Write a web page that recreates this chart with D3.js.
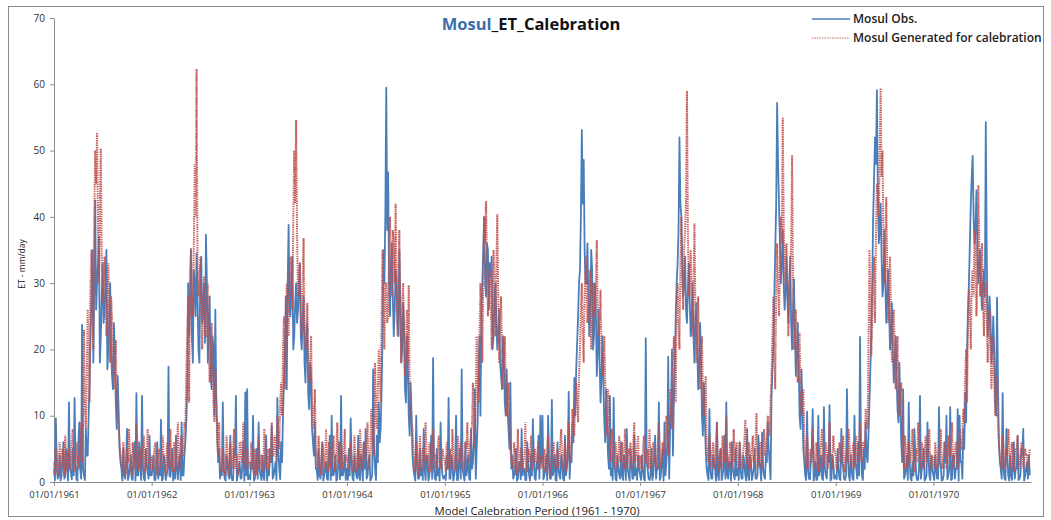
<!DOCTYPE html>
<html>
<head>
<meta charset="utf-8">
<script src="https://cdn.jsdelivr.net/npm/d3@7"></script>
<style>
  html, body { margin: 0; padding: 0; background: #fff; }
  svg { display: block; font-family: "Open Sans", "DejaVu Sans", sans-serif; }
</style>
</head>
<body>
<svg id="chart" width="1051" height="520"></svg>
<script>
// ET (mm/day) at Mosul, 1961 .. 1970: one row per year, one reading at the
// start of each week plus one reading half a week later.
const years = [1961, 1962, 1963, 1964, 1965, 1966, 1967, 1968, 1969, 1970];

const obsWeekly = [
  [2,9.6,0.5,4,1,6,0.8,3,12,1.5,5,12.7,0.4,6,2,23.7,1,8, 4,15,28,18,42.5,30,37,22,33,26,35,20,30,16,24,12,16,5, 2,5,0.5,8,1,4,0.3,6,13.4,1,3,13,0.5,5,1.5,7],
  [1,4,0.3,6,2,9.4,0.5,3,1,17.4,0.8,5,2,7,0.4,4,9,1, 6,14,22,35,18,30,34.5,20,32,24,30,37.3,18,28,14,20,26,8,5, 2,12,0.5,4,1,7,0.3,5,13,1,3,0.6,6,13.5,14],
  [1,3,10,0.5,5,9,1,4,0.3,7,2,5,8.6,1,3,12.7,2,6, 10,20,14,38.8,25,34,22,30,26,33,20,28,15,24,11,16,6,9, 2,5,0.5,6,1,3,0.3,7,10,1,4,0.5,6,13,1,4],
  [2,5,9.6,0.5,4,1,7,0.3,3,6,8,1,4,0.5,17,2,7,12, 8,22,30,59.5,46.7,25,36,22,32,24,35,18,27,14,22,10,15,4, 1,10,0.5,5,2,8,0.3,4,1,7,18.7,0.5,5,2,9,1],
  [1,4,12.7,0.5,3,1,10,0.3,5,17,1,6,2,0.5,8,3,14,5, 17,10,30,40,28,35,33,34,22,30,20,26,16,22,12,17,8,15,4, 1,5,0.5,3,8,2,0.3,6,1,4,9.5,0.5,3,7,10],
  [10,1,4,10,0.5,12.4,2,0.3,6,1,4,0.5,7,2,13.6,4,9,15.7, 17,25,32,53.1,48.6,30,36,22,35,20,30,16,26,12,22,9,14,4,13, 2,12.7,0.5,4,1,6,0.3,3,8,1,5,0.5,7,2,4],
  [1,4,0.5,21.7,2,0.3,5,1,7,2,12,0.8,5,9,3,18.9,8,20, 12,25,33,52,40,28,34,24,33,22,30,18,27,14,24,10,15,5, 1,11,0.5,4,2,9,0.3,5,1,7,12,0.5,3,6,1,5],
  [2,6,0.5,4,1,8,0.3,3,1,5,0.5,7,2,7.5,1,4,9,3, 12.7,20,35,57.2,42,30,38,26,34,24,34,20,30.6,16,24,10,17,5, 1,10.6,0.5,3,11,1,0.3,10,2,0.5,11.3,1,4,11.6,0.5,3],
  [1,5,0.5,8,2,0.3,14,1,4,0.5,10,2,6,21.9,1,5,9,3, 12,22,40,52,59.1,36,42,28,38,24,32,20,27,15,22,11,18,6,14, 1,4,12,0.5,3,8,1,0.3,13,2,5,0.5,9,1,4],
  [1,4,0.5,11.3,2,0.3,6,10,1,11.3,0.5,4,2,11,10,3,8,13.4, 20,30,42,49.2,36,44,30,35,26,32,54.3,22,28,18,25,12,27.8,6, 2,13.4,0.5,8,1,4,0.3,6,2,7,0.5,5,8,1,3,4]
];

const obsMidweek = [
  [0.3,2,1,0.2,3,0.5,5,0.2,2,0.4,1,3,0.2,9,0.5,2,0.3,4, 10,22,35,30,26,33,18,28,24,30,17,25,20,14,19,8,11,3, 0.2,1,3,0.3,2,0.5,4,0.2,1,6,0.3,2,0.2,3,0.5,1],
  [2,0.3,3,0.5,1,0.2,4,0.3,2,1,3,0.2,0.5,2,3,0.3,1,4, 9,30,27,22,32,25,28,18,34,26,21,30,24,16,22,10,13,3, 0.5,1,2,0.2,3,0.5,1,0.3,4,0.2,2,0.5,3,0.2,1,0.4],
  [0.4,2,0.2,3,0.5,2,0.3,1,4,0.2,1,3,0.5,2,0.3,5,0.4,3, 15,28,30,26,31,20,27,24,29,22,25,18,22,13,18,8,4,2, 0.3,1,3,0.2,2,0.5,4,0.3,1,2,0.2,3,0.4,1,2,0.3],
  [0.3,1,3,0.2,2,0.5,1,4,0.2,2,0.5,3,0.2,1,5,0.3,3,6, 14,35,40,38,30,33,28,26,30,22,28,20,24,12,18,7,10,2, 0.2,3,0.5,1,0.3,2,4,0.2,3,0.5,2,0.3,1,0.2,3,0.5],
  [0.3,2,0.5,4,0.2,2,0.3,3,0.5,2,0.2,1,4,0.3,2,6,0.5,9, 22,25,35,30,36,26,31,20,28,24,22,18,14,20,10,11,5,2, 0.5,2,0.2,3,0.4,1,2,0.3,3,0.2,1,4,0.3,2,0.5,3],
  [0.4,2,0.3,3,0.5,1,4,0.2,2,0.5,3,0.2,1,4,0.5,3,6,10, 21,30,40,42,35,30,28,25,32,22,26,20,18,16,15,6,9,2, 1,0.3,3,0.2,2,0.5,1,4,0.3,2,0.2,3,0.5,1,0.3,2],
  [0.3,2,0.2,3,0.5,1,0.3,4,0.5,2,0.3,3,0.2,1,6,0.5,11,4, 18,30,38,42,33,30,26,29,27,24,22,25,20,17,19,7,10,2, 0.3,2,0.5,3,0.2,1,4,0.3,2,0.5,1,3,0.2,2,0.4,1],
  [0.3,2,0.5,3,0.2,1,4,0.3,2,0.5,1,3,0.2,2,0.5,3,5,0.4, 17,28,42,48,36,33,30,29,28,30,24,26,22,19,18,8,12,3, 0.3,2,0.4,5,0.2,3,0.5,1,4,0.3,2,0.5,3,0.2,4,0.5],
  [0.4,2,0.3,3,0.5,1,4,0.2,2,0.3,3,0.5,1,5,0.3,2,4,7, 17,30,46,48,44,38,34,30,30,28,26,22,20,18,16,9,12,3, 0.5,2,0.3,3,0.2,1,4,0.3,2,0.5,3,0.2,1,4,0.3,2],
  [0.3,2,0.5,3,0.2,1,3,0.4,2,0.3,4,0.5,2,0.2,3,0.5,5,9, 26,36,46,40,38,35,32,29,30,28,35,24,25,20,20,10,15,3, 0.5,2,0.3,4,0.2,1,3,0.5,2,0.3,1,4,0.2,2,0.5,1]
];

const genWeekly = [
  [3,5,1,6,2,4,7,1.5,5,3,8,2,6,4,9,3,23,8, 26,12,35,20,50,52.7,30,50.3,27,34,22,33,18,25,14,21.4,10,6, 3,6,1,5,8,2,6,3,9,1.5,5,4,7,2,8,3],
  [4,2,6,1,5,3,7,2,5,4,8,1.5,6,3,9,2,7,4, 8,22,12,35.3,25,48,62.3,28,34,20,31,22,30,15,24,12,17,6,9, 2,5,1,7,3,6,2,8,4,1,6,3,9,2,5],
  [3,6,2,5,1,7,3,4,8,2,5,3,9,4,6,10,5,15, 20,14,30,22,34,26,50,54.6,28,33,22,36.8,20,27,15,22,10,14, 4,7,2,6,3,8,1.5,5,3,7,2,9,4,6,2,8],
  [4,2,6,3,7,1.5,5,8,2,6,4,9,3,11,5,18,8,20, 12,35,20,30,25,40,28,36,42,22,38,18,30,16,26,29.7,12,8, 3,6,1,7,2,5,9,3,6,1.5,8,4,2,7,3,5],
  [3,6,2,5,8,1.5,4,7,3,5,2,6,9,3,7,15,5,22, 12,30,18,40,42.4,25,32,20,35,22,40.4,18,28,14,22,10,15,5, 3,6,1,8,2,5,3,9,1.5,4,7,2,5,3,6,2],
  [2,5,3,7,1,4,6,2,5,3,8,2,6,4,9,5,11,7, 15,9,20,30,18,34,24,28,20,30,25,36.5,22,29,18,22,10,14, 5,8,3,6,2,7,4,3,8,2,5,6,3,9,4,7],
  [4,2,7,3,5,8,2,6,4,3,9,2,6,5,10,4,14,8, 22,12,30,20,40,26,38,59,28,35,22,39,18,28,14,22,10,16, 4,7,2,6,3,9,1.5,5,7,3,10,4,6,2,8,5],
  [3,6,2,5,9.4,3,6,2,7,4,10.4,3,6,2,8,5,10,7, 16,28,14,36,25,40,55,30,36,22,32,49.3,20,26,15,22.5,10,14, 4,7,2,5,8,3,6,1.5,5,8,3,6,2,9,4,7],
  [4,2,6,3,7,1.5,5,8,3,5,2,7,4,9,3,6,11,8, 35,19,30,24,45,40,59.4,50,30,43,24,34,18,26,14,22,10,15, 4,7,2,6,3,8,1.5,5,9,3,6,2,7,4,8,3],
  [3,6,2,5,8,3,6,2,7,4,9,3,6,2,8,5,11,16, 12,29,20,32,38,25,44.8,28,36,22,30,18,26,14,22,10,16,6, 3,7,2,5,8,3,6,1.5,5,7,3,6,2,5,4,3]
];

const genMidweek = [
  [1,4,2,3,5,1,3,4,2,6,1.5,4,3,2,5,7,12,15, 20,30,28,40,45,38,42,33,30,28,26,24,28,20,16,13,8,4, 2,4,1.5,3,5,1,4,2,6,3,2,5,1.5,4,3,2],
  [2,5,1.5,4,2,5,3,1,6,2,4,3,1.5,5,3,6,4,9, 16,28,30,27,35,40,33,30,26,28,22,25,20,18,19,9,12,4, 3,1.5,4,2,5,1,3,5,2,4,1.5,6,3,2,4,3],
  [2,4,1,3,5,2,4,1.5,6,3,2,5,4,7,3,8,12,10, 25,20,28,32,30,40,42,38,30,26,30,24,22,18,17,12,8,5, 2,4,1,5,2,3,6,2,4,1.5,5,3,2,4,5,3],
  [2,5,3,1.5,4,3,2,5,4,3,6,2,5,7,4,10,14,16, 25,28,30,24,35,32,38,30,28,32,26,24,22,20,18,14,9,5, 1.5,4,3,2,5,3,4,1.5,5,3,4,2,5,3,2,4],
  [1.5,4,3,2,5,3,2,4,6,2,3,5,4,6,9,8,12,18, 22,26,30,36,33,30,28,26,30,32,28,24,20,18,16,12,8,3, 2,4,3,1.5,5,2,4,2,5,3,2,4,3,5,2,4],
  [4,1.5,5,3,2,5,3,4,2,6,3,4,1.5,5,3,6,8,12, 12,16,26,22,28,30,26,32,24,28,30,26,24,20,16,15,7,9, 3,5,2,4,4,3,6,2,5,3,4,2,6,3,5,2],
  [2,5,3,4,2,3,5,3,2,6,4,3,4,7,6,9,11,16, 18,26,24,33,30,35,42,38,30,28,30,26,22,20,18,13,12,6, 3,5,4,2,6,3,4,2,5,6,3,2,5,4,3,6],
  [2,4,3,6,3,2,4,5,3,6,2,4,3,5,4,7,9,12, 22,20,28,30,32,36,40,34,30,28,36,30,22,20,18,13,12,7, 2,5,4,3,5,2,4,3,6,2,4,5,3,4,2,5],
  [2,4,3,5,2,4,3,5,2,6,4,3,5,4,6,5,9,20, 28,24,34,38,44,50,46,36,36,32,28,26,24,20,18,14,12,7, 2,5,3,4,5,2,4,3,6,2,5,4,3,5,2,4],
  [2,4,3,5,2,4,5,3,4,6,2,5,3,4,5,7,9,20, 24,26,30,28,35,30,36,32,28,30,24,22,20,18,16,13,9,4, 2,5,3,4,6,2,4,3,5,2,4,5,3,4,2,5]
];

const yTicks = [0, 10, 20, 30, 40, 50, 60, 70];
const xTickDates = years.map(y => new Date(y, 0, 1));
const seriesNames = ["Mosul Obs.", "Mosul Generated for calebration"];

// Merge the week-start and mid-week readings into one dated series
function toPoints(weekRows, midRows) {
  const pts = [];
  years.forEach((yr, yi) => {
    const wk = weekRows[yi], mid = midRows[yi];
    const n = Math.max(wk.length, mid.length);
    for (let w = 0; w < n; w++) {
      if (w < wk.length) pts.push({ date: new Date(yr, 0, 1 + 7 * w), v: wk[w] });
      if (w < mid.length) pts.push({ date: new Date(yr, 0, 4 + 7 * w, 12), v: mid[w] });
    }
  });
  return pts;
}
const obsPts = toPoints(obsWeekly, obsMidweek);
const genPts = toPoints(genWeekly, genMidweek);

const svg = d3.select("#chart");
const blue = "#4a7ebb";
const red = "#c0504d";

// Outer chart frame
svg.append("rect")
  .attr("x", 8.5).attr("y", 6.5).attr("width", 1035).attr("height", 510)
  .attr("fill", "none").attr("stroke", "#8c8c8c").attr("stroke-width", 1);

const x = d3.scaleTime()
  .domain([new Date(1961, 0, 1), new Date(1971, 0, 1)])
  .range([54, 1031]);
const y = d3.scaleLinear().domain([0, 70]).range([482, 18]);

// Axes
const xAxis = svg.append("g")
  .attr("transform", `translate(0,${y(0)})`)
  .call(d3.axisBottom(x).tickValues(xTickDates).tickFormat(d3.timeFormat("%d/%m/%Y")).tickSize(4).tickSizeOuter(0));
xAxis.select(".domain").attr("stroke", "#8c8c8c");
xAxis.selectAll(".tick line").attr("stroke", "#8c8c8c");
xAxis.selectAll(".tick text").attr("fill", "#333").attr("font-size", "9.5px").attr("font-family", "Open Sans").attr("dy", "0.95em");

const yAxis = svg.append("g")
  .attr("transform", `translate(${x.range()[0]},0)`)
  .call(d3.axisLeft(y).tickValues(yTicks).tickFormat(d3.format("d")).tickSize(4).tickSizeOuter(0));
yAxis.select(".domain").attr("stroke", "#8c8c8c");
yAxis.selectAll(".tick line").attr("stroke", "#8c8c8c");
yAxis.selectAll(".tick text").attr("fill", "#333").attr("font-size", "10px").attr("font-family", "Open Sans").attr("x", -9);

// Series lines (generated series drawn over the observations)
const line = d3.line().x(d => x(d.date)).y(d => y(d.v));
svg.append("path").datum(obsPts)
  .attr("d", line).attr("fill", "none")
  .attr("stroke", blue).attr("stroke-width", 1.8).attr("stroke-linejoin", "round");
svg.append("path").datum(genPts)
  .attr("d", line).attr("fill", "none")
  .attr("stroke", red).attr("stroke-opacity", 0.9).attr("stroke-width", 2).attr("stroke-dasharray", "1.4,0.9");

// Title
const title = svg.append("text")
  .attr("x", 531).attr("y", 30).attr("text-anchor", "middle")
  .attr("font-size", "16.5px").attr("font-weight", "bold").attr("font-family", "Open Sans");
title.append("tspan").attr("fill", "#3d6da8").text("Mosul");
title.append("tspan").attr("fill", "#111").text("_ET_Calebration");

// Legend
const legend = svg.append("g");
[0, 1].forEach(i => {
  const ly = 19 + i * 19;
  legend.append("line")
    .attr("x1", 812).attr("x2", 850).attr("y1", ly).attr("y2", ly)
    .attr("stroke", i === 0 ? blue : red)
    .attr("stroke-width", i === 0 ? 1.5 : 1.2)
    .attr("stroke-dasharray", i === 0 ? null : "1.3,1.2");
  legend.append("text")
    .attr("x", 853).attr("y", ly + 4)
    .attr("font-size", "12px").attr("font-weight", 600).attr("fill", "#222")
    .text(seriesNames[i]);
});

// Axis titles
svg.append("text")
  .attr("x", 537).attr("y", 515).attr("text-anchor", "middle")
  .attr("font-size", "11.3px").attr("fill", "#222")
  .text("Model Calebration Period (1961 - 1970)");
svg.append("text")
  .attr("transform", "translate(25,264) rotate(-90)")
  .attr("text-anchor", "middle").attr("font-size", "8.5px").attr("fill", "#222")
  .text("ET - mm/day");
</script>
</body>
</html>
